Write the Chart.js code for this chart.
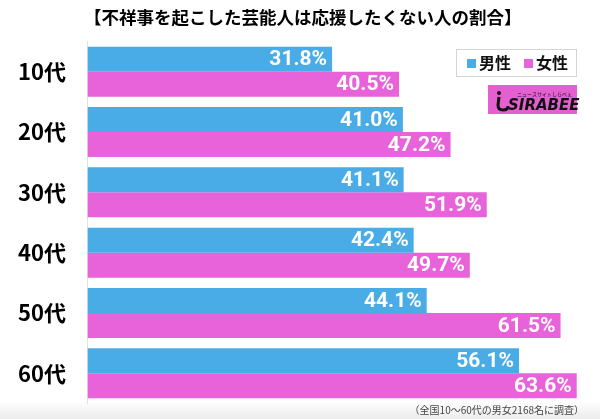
<!DOCTYPE html>
<html lang="ja">
<head>
<meta charset="utf-8">
<title>不祥事を起こした芸能人は応援したくない人の割合</title>
<script src="https://cdn.jsdelivr.net/npm/chart.js@4.4.1/dist/chart.umd.min.js"></script>
<style>
  html, body { margin: 0; padding: 0; background: #fff; }
  #wrap { width: 600px; height: 419px; position: relative; }
</style>
</head>
<body>
<div id="wrap"><canvas id="chart"></canvas></div>
<script>
// データ
const ageGroups = ['10代', '20代', '30代', '40代', '50代', '60代'];
const seriesNames = ['男性', '女性'];
const maleValues = [31.8, 41.0, 41.1, 42.4, 44.1, 56.1];
const femaleValues = [40.5, 47.2, 51.9, 49.7, 61.5, 63.6];
const titleText = '【不祥事を起こした芸能人は応援したくない人の割合】';
const noteText = '（全国10～60代の男女2168名に調査）';

const BLUE = '#4aace6';
const PINK = '#e862da';
const JP_FONT = '"Noto Sans CJK JP", "Noto Sans", sans-serif';

// 背景（下部の薄いグレー）
const backgroundPlugin = {
  id: 'background',
  beforeDraw(chart) {
    const { ctx, width, height } = chart;
    ctx.save();
    ctx.fillStyle = '#fff';
    ctx.fillRect(0, 0, width, height);
    const g = ctx.createLinearGradient(0, 401, 0, height);
    g.addColorStop(0, '#ffffff');
    g.addColorStop(1, '#ebebeb');
    ctx.fillStyle = g;
    ctx.fillRect(0, 401, width, height - 401);
    ctx.restore();
  }
};

// バー内の数値ラベル
const valueLabels = {
  id: 'valueLabels',
  afterDatasetsDraw(chart) {
    const { ctx } = chart;
    ctx.save();
    ctx.font = 'bold 21px Roboto, "Liberation Sans", sans-serif';
    ctx.fillStyle = '#fff';
    ctx.textAlign = 'right';
    ctx.textBaseline = 'middle';
    chart.data.datasets.forEach((ds, i) => {
      chart.getDatasetMeta(i).data.forEach((bar, j) => {
        ctx.fillText(ds.data[j].toFixed(1) + '%', bar.x - 5, bar.y + 1);
      });
    });
    ctx.restore();
  }
};

// 凡例・ロゴ・注記
const extras = {
  id: 'extras',
  afterDraw(chart) {
    const { ctx } = chart;
    ctx.save();

    // 凡例ボックス
    ctx.fillStyle = '#fff';
    ctx.fillRect(456, 49, 121, 28);
    ctx.strokeStyle = '#d4d4d4';
    ctx.lineWidth = 1;
    ctx.strokeRect(456.5, 49.5, 120, 27);
    ctx.font = 'bold 16px ' + JP_FONT;
    ctx.textBaseline = 'middle';
    ctx.textAlign = 'left';
    let x = 467;
    chart.data.datasets.forEach(ds => {
      ctx.fillStyle = ds.backgroundColor;
      ctx.fillRect(x, 59, 9, 9);
      ctx.fillStyle = '#111';
      ctx.fillText(ds.label, x + 12, 63);
      x += 57;
    });

    // SIRABEE ロゴ
    ctx.fillStyle = '#e45fd0';
    ctx.fillRect(488, 85, 89, 29);
    ctx.fillStyle = '#111';
    ctx.beginPath();
    ctx.arc(499, 93, 2, 0, Math.PI * 2);
    ctx.fill();
    ctx.lineWidth = 3;
    ctx.strokeStyle = '#111';
    ctx.beginPath();
    ctx.moveTo(499, 97);
    ctx.lineTo(498, 105);
    ctx.quadraticCurveTo(498, 110, 503, 110);
    ctx.quadraticCurveTo(508, 110, 508, 106);
    ctx.stroke();
    ctx.font = 'italic bold 15px "DejaVu Sans", sans-serif';
    ctx.textBaseline = 'alphabetic';
    ctx.fillText('SIRABEE', 508, 110);
    ctx.font = '5px ' + JP_FONT;
    ctx.fillText('ニュースサイトしらべぇ', 517, 96);

    // 注記
    ctx.font = '10px ' + JP_FONT;
    ctx.fillStyle = '#444';
    ctx.textAlign = 'right';
    ctx.textBaseline = 'middle';
    ctx.fillText(noteText, 584, 410);

    ctx.restore();
  }
};

new Chart(document.getElementById('chart'), {
  type: 'bar',
  data: {
    labels: ageGroups,
    datasets: [
      { label: seriesNames[0], data: maleValues, backgroundColor: BLUE },
      { label: seriesNames[1], data: femaleValues, backgroundColor: PINK }
    ]
  },
  options: {
    indexAxis: 'y',
    responsive: true,
    maintainAspectRatio: false,
    animation: false,
    devicePixelRatio: 1,
    layout: { padding: { left: 18, right: 12.5, bottom: 15.5, top: 0 } },
    datasets: {
      bar: { barPercentage: 1, categoryPercentage: 0.83, borderWidth: 0 }
    },
    scales: {
      x: { min: 0, max: 65, display: false },
      y: {
        grid: { display: false },
        border: { display: true, color: '#e2e2e2' },
        ticks: {
          color: '#000',
          padding: 0,
          crossAlign: 'far',
          font: { family: JP_FONT, size: 22, weight: 'bold' }
        },
        afterFit(axis) { axis.width = 69.5; }
      }
    },
    plugins: {
      legend: { display: false },
      tooltip: { enabled: false },
      title: {
        display: true,
        text: titleText,
        color: '#000',
        font: { family: JP_FONT, size: 17.5, weight: 'bold' },
        padding: { top: 6.5, bottom: 14 }
      }
    }
  },
  plugins: [backgroundPlugin, valueLabels, extras]
});
</script>
</body>
</html>
